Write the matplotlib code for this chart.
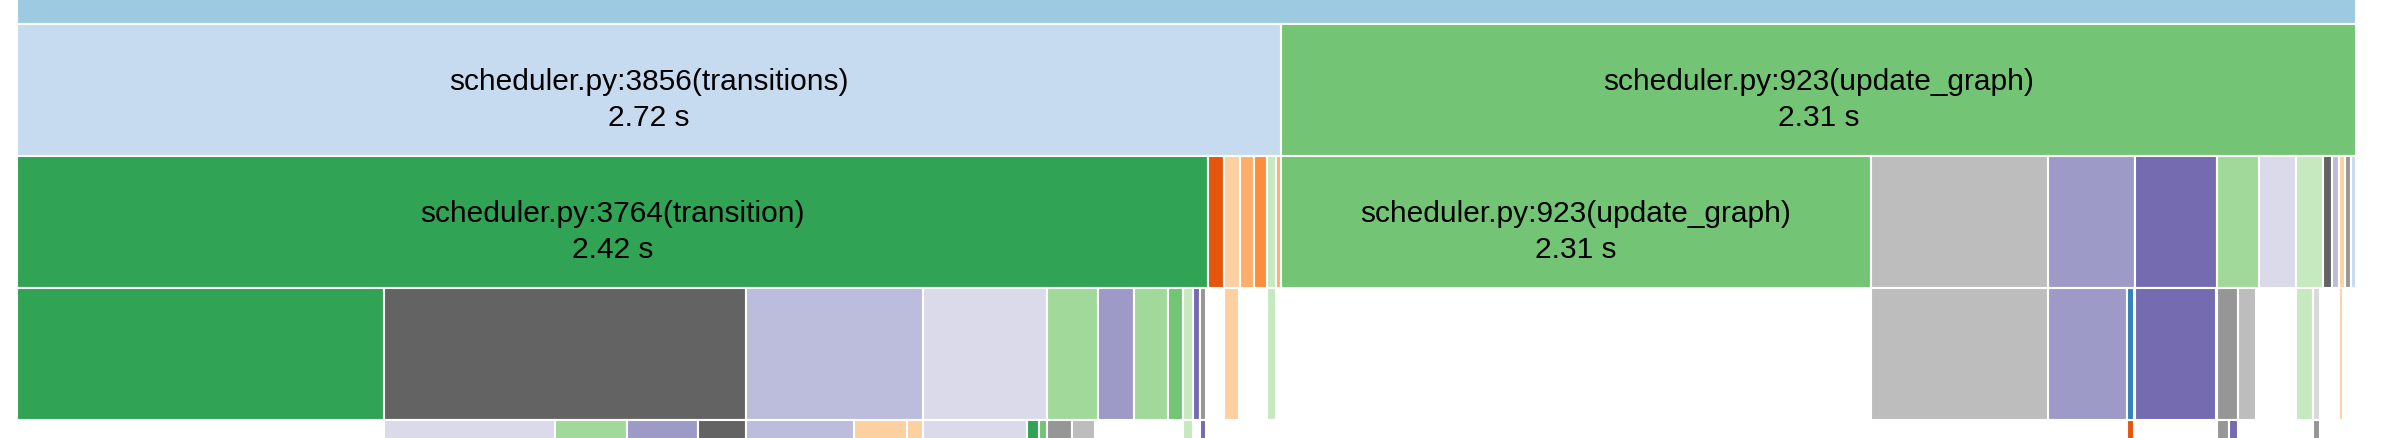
import matplotlib
matplotlib.use("Agg")
import matplotlib.pyplot as plt

# ---------------- data (durations in seconds) ----------------
root_value = 5.03
root_color = "#9ecae1"

# level 1 (children of root)
row1_parent = [0, 0]
row1_values = [2.719, 2.311]
row1_colors = ["#c6dbef", "#74c476"]
row1_labels = ["scheduler.py:3856(transitions)", "scheduler.py:923(update_graph)"]
row1_times = ["2.72 s", "2.31 s"]

# level 2
row2_parent = [0, 0, 0, 0, 0, 0, 0,
               1, 1, 1, 1, 1, 1, 1, 1, 1, 1, 1, 1]
row2_values = [2.561, 0.035, 0.0344, 0.0301, 0.028, 0.020, 0.0101,
               1.268, 0.381, 0.1878, 0.1757, 0.0914, 0.0796, 0.0581,
               0.0189, 0.014, 0.014, 0.0133, 0.0092]
row2_colors = ["#31a354", "#e6550d", "#fdd0a2", "#fdae6b", "#fd8d3c", "#c7e9c0", "#fdae6b",
               "#74c476", "#bdbdbd", "#9e9ac8", "#756bb1", "#a1d99b", "#dadaeb", "#c7e9c0",
               "#636363", "#bcbddc", "#fdd0a2", "#969696", "#c6dbef"]
row2_labels = ["scheduler.py:3764(transition)", "", "", "", "", "", "",
               "scheduler.py:923(update_graph)", "", "", "", "", "", "", "", "", "", "", ""]
row2_times = ["2.42 s", "", "", "", "", "", "",
              "2.31 s", "", "", "", "", "", "", "", "", "", "", ""]

# level 3
row3_parent = [0, 0, 0, 0, 0, 0, 0, 0, 0, 0, 0,
               2, 5, 8, 9, 9, 10, 11, 11, 13, 13, 16]
row3_values = [0.790, 0.779, 0.3797, 0.2667, 0.1097, 0.0779, 0.0723, 0.0331, 0.0211, 0.0151, 0.0129,
               0.032, 0.020, 0.381, 0.1706, 0.0157, 0.1736, 0.0454, 0.0398, 0.0357, 0.0161, 0.0097]
row3_colors = ["#31a354", "#636363", "#bcbddc", "#dadaeb", "#a1d99b", "#9e9ac8", "#a1d99b",
               "#74c476", "#c7e9c0", "#756bb1", "#969696",
               "#fdd0a2", "#c7e9c0", "#bdbdbd", "#9e9ac8", "#3182bd", "#756bb1",
               "#969696", "#bdbdbd", "#c7e9c0", "#d9d9d9", "#fdd0a2"]

# level 4
row4_parent = [1, 1, 1, 1, 2, 2, 2, 3, 3, 3, 4, 4, 8, 10, 15, 17, 17, 20]
row4_values = [0.3667, 0.1557, 0.1534, 0.1032, 0.2317, 0.1131, 0.0348,
               0.2233, 0.0267, 0.0168, 0.0549, 0.048, 0.0211, 0.0129,
               0.0157, 0.026, 0.0194, 0.0161]
row4_colors = ["#dadaeb", "#a1d99b", "#9e9ac8", "#636363", "#bcbddc", "#fdd0a2", "#fdd0a2",
               "#dadaeb", "#31a354", "#74c476", "#969696", "#bdbdbd", "#c7e9c0", "#756bb1",
               "#e6550d", "#969696", "#756bb1", "#969696"]

# ---------------- layout ----------------
W, H = 2382, 438
fig = plt.figure(figsize=(W / 100, H / 100), dpi=100)
ax = fig.add_axes([0, 0, 1, 1])
ax.axis("off")

left_px = 17
px_per_s = 2338.5 / root_value
ax.set_xlim(-left_px / px_per_s, (W - left_px) / px_per_s)
row_px = 132.0
top_px = 24.0
ax.set_ylim(1 + (H - top_px) / row_px, 1 - top_px / row_px)

EDGE = dict(edgecolor="white", linewidth=1.5)
FONT = dict(family=["Liberation Sans", "DejaVu Sans"], fontsize=21.5, color="black")


def stack(parent_starts, parents, values):
    starts = []
    offset = {}
    for p, v in zip(parents, values):
        o = offset.get(p, 0.0)
        starts.append(parent_starts[p] + o)
        offset[p] = o + v
    return starts


def draw_row(level, starts, values, colors, labels=None, times=None):
    ax.bar(starts, [1.0] * len(values), width=values, bottom=level,
           align="edge", color=colors, **EDGE)
    if labels:
        for s, v, lab, t in zip(starts, values, labels, times):
            if lab:
                cx = s + v / 2
                ax.text(cx, level + 0.5, lab, ha="center", va="baseline", **FONT)
                ax.text(cx, level + 0.773, t, ha="center", va="baseline", **FONT)


root_starts = [0.0]
draw_row(0, root_starts, [root_value], [root_color])

s1 = stack(root_starts, row1_parent, row1_values)
draw_row(1, s1, row1_values, row1_colors, row1_labels, row1_times)

s2 = stack(s1, row2_parent, row2_values)
draw_row(2, s2, row2_values, row2_colors, row2_labels, row2_times)

s3 = stack(s2, row3_parent, row3_values)
draw_row(3, s3, row3_values, row3_colors)

s4 = stack(s3, row4_parent, row4_values)
draw_row(4, s4, row4_values, row4_colors)

fig.savefig("out.png", dpi=100, facecolor="white")
